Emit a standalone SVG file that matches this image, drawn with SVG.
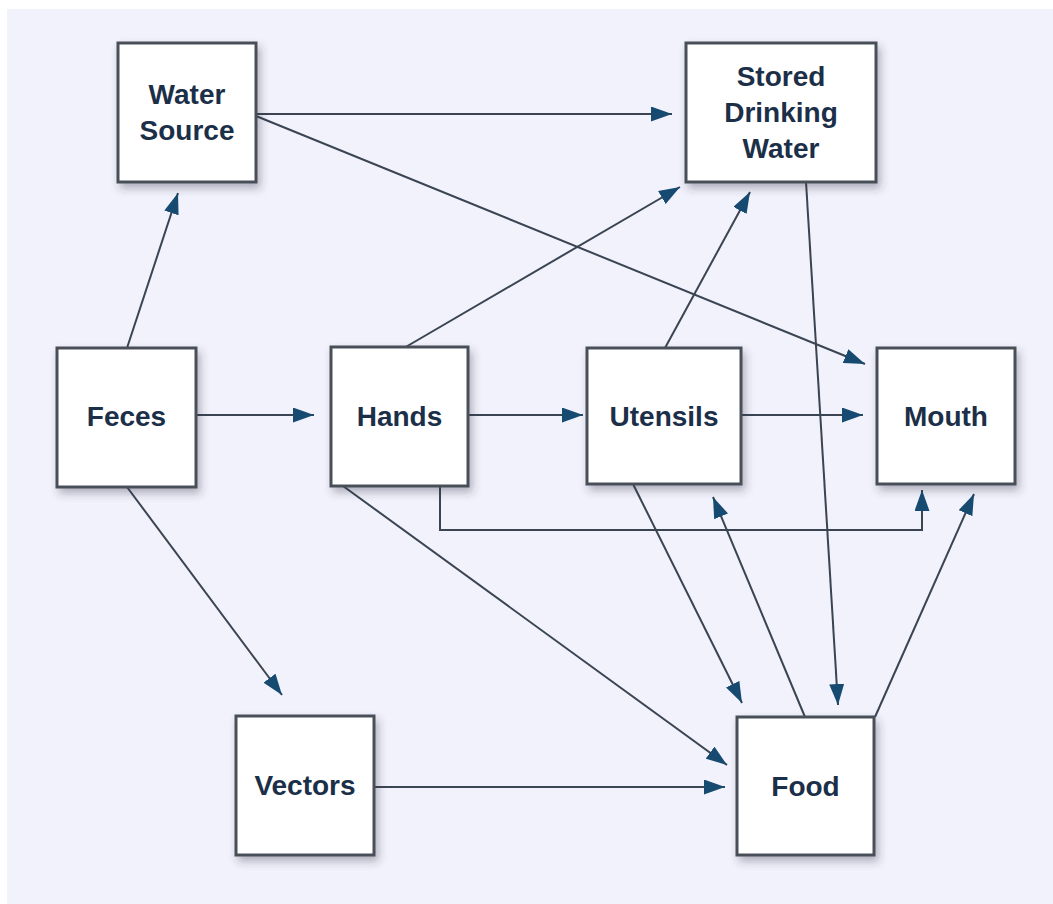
<svg xmlns="http://www.w3.org/2000/svg" width="1053" height="904" viewBox="0 0 1053 904">
<style>
.box{fill:#ffffff;stroke:#4a5058;stroke-width:3;filter:url(#sh)}
.lbl{font-family:"Liberation Sans",Arial,sans-serif;font-weight:bold;font-size:28px;fill:#1c2f48;text-anchor:middle}
.c{fill:none;stroke:#3a4452;stroke-width:2;marker-end:url(#ah)}
</style>
<defs>
<filter id="sh" x="-20%" y="-20%" width="150%" height="150%">
<feDropShadow dx="3" dy="5" stdDeviation="4" flood-color="#303848" flood-opacity="0.35"/>
</filter>
<marker id="ah" markerUnits="userSpaceOnUse" markerWidth="21" markerHeight="15" refX="21" refY="7.5" orient="auto">
<path d="M0,0 L21,7.5 L0,15 z" fill="#174a70"/>
</marker>
</defs>
<rect x="0" y="0" width="1053" height="904" fill="#ffffff"/>
<rect x="7" y="9" width="1046" height="895" fill="#f2f2fc"/>
<g id="connectors">
<line class="c" x1="127" y1="348" x2="178" y2="193"/>
<line class="c" x1="256" y1="114" x2="672" y2="114"/>
<line class="c" x1="256" y1="116" x2="865" y2="364"/>
<line class="c" x1="197" y1="415" x2="314" y2="415"/>
<line class="c" x1="404" y1="348" x2="680" y2="187"/>
<line class="c" x1="665" y1="348" x2="750" y2="192"/>
<line class="c" x1="468" y1="415" x2="583" y2="415"/>
<line class="c" x1="741" y1="415" x2="863" y2="415"/>
<polyline class="c" points="440,486 440,530 922,530 922,490"/>
<line class="c" x1="875" y1="717" x2="974" y2="494"/>
<line class="c" x1="806" y1="182" x2="838" y2="705"/>
<line class="c" x1="805" y1="717" x2="713" y2="497"/>
<line class="c" x1="633" y1="484" x2="742" y2="703"/>
<line class="c" x1="343" y1="486" x2="727" y2="765"/>
<line class="c" x1="127" y1="487" x2="282" y2="695"/>
<line class="c" x1="374" y1="787" x2="725" y2="787"/>
</g>
<g id="water-source"><rect class="box" x="118" y="43" width="138" height="139"/><text class="lbl" x="187" y="104">Water</text><text class="lbl" x="187" y="140">Source</text></g>
<g id="stored-drinking-water"><rect class="box" x="686" y="43" width="190" height="139"/><text class="lbl" x="781" y="86">Stored</text><text class="lbl" x="781" y="122">Drinking</text><text class="lbl" x="781" y="158">Water</text></g>
<g id="feces"><rect class="box" x="57" y="348" width="139" height="139"/><text class="lbl" x="126.5" y="426">Feces</text></g>
<g id="hands"><rect class="box" x="331" y="347" width="137" height="139"/><text class="lbl" x="399.5" y="426">Hands</text></g>
<g id="utensils"><rect class="box" x="587" y="348" width="154" height="136"/><text class="lbl" x="664" y="426">Utensils</text></g>
<g id="mouth"><rect class="box" x="877" y="348" width="138" height="136"/><text class="lbl" x="946" y="426">Mouth</text></g>
<g id="vectors"><rect class="box" x="236" y="716" width="138" height="139"/><text class="lbl" x="305" y="795">Vectors</text></g>
<g id="food"><rect class="box" x="737" y="717" width="137" height="138"/><text class="lbl" x="805.5" y="796">Food</text></g>
</svg>
